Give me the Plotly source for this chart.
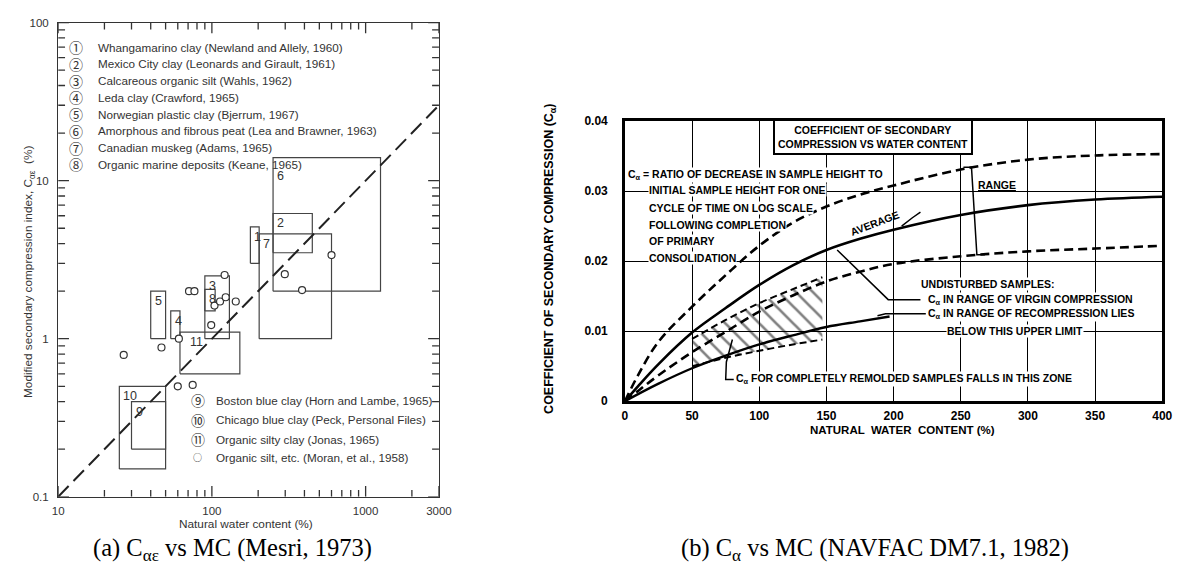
import numpy as np
import plotly.graph_objects as go

W, H = 1189, 575

# ---------------- (a) Mesri (1973) data ----------------
box_labels = ['1', '2', '3', '4', '5', '6', '7', '8', '9', '10', '11']
box_x0 = [178, 250, 90, 54, 40, 250, 203, 90, 30, 25, 62]
box_x1 = [203, 450, 130, 62, 50, 1250, 600, 105, 50, 50, 152]
box_y0 = [3.0, 3.5, 1.0, 1.0, 1.0, 2.0, 1.0, 1.5, 0.2, 0.15, 0.6]
box_y1 = [5.1, 6.2, 2.5, 1.5, 2.0, 14.0, 4.6, 2.05, 0.4, 0.5, 1.1]

silt_w = [26.7, 47, 61, 60, 75, 71, 77, 99, 104, 113, 123, 121, 143, 298, 386, 600]
silt_c = [0.79, 0.88, 1.0, 0.50, 0.51, 2.0, 2.0, 1.22, 1.62, 1.72, 1.83, 2.53, 1.72, 2.56, 2.03, 3.38]

trend_w = [10, 3000]
trend_c = [0.1, 30]

legend_top_sym = ['①', '②', '③', '④', '⑤', '⑥', '⑦', '⑧']
legend_top_txt = [
    'Whangamarino clay (Newland and Allely, 1960)',
    'Mexico City clay (Leonards and Girault, 1961)',
    'Calcareous organic silt (Wahls, 1962)',
    'Leda clay (Crawford, 1965)',
    'Norwegian plastic clay (Bjerrum, 1967)',
    'Amorphous and fibrous peat (Lea and Brawner, 1963)',
    'Canadian muskeg (Adams, 1965)',
    'Organic marine deposits (Keane, 1965)',
]
legend_bot_sym = ['⑨', '⑩', '⑪', '○']
legend_bot_txt = [
    'Boston blue clay (Horn and Lambe, 1965)',
    'Chicago blue clay (Peck, Personal Files)',
    'Organic silty clay (Jonas, 1965)',
    'Organic silt, etc. (Moran, et al., 1958)',
]

xa_ticks = [10, 100, 1000, 3000]
xa_minor = [20, 30, 40, 50, 60, 70, 80, 90, 200, 300, 400, 500, 600, 700, 800, 900, 2000]
ya_ticks = [0.1, 1, 10, 100]
ya_minor = [0.2, 0.3, 0.4, 0.5, 0.6, 0.7, 0.8, 0.9, 2, 3, 4, 5, 6, 7, 8, 9, 20, 30, 40, 50, 60, 70, 80, 90]

# ---------------- (b) NAVFAC DM7.1 (1982) data ----------------
w_pts = [0, 10, 25, 50, 75, 100, 125, 150, 175, 200, 250, 300, 350, 400]
range_upper = [0, 0.0038, 0.0085, 0.0135, 0.0180, 0.0222, 0.0255, 0.0278, 0.0295, 0.0308, 0.0331, 0.0345, 0.0351, 0.0353]
average = [0, 0.0022, 0.0053, 0.0098, 0.0133, 0.0166, 0.0194, 0.0216, 0.0232, 0.0245, 0.0266, 0.0280, 0.0288, 0.0292]
range_lower = [0, 0.0015, 0.0037, 0.0070, 0.0099, 0.0128, 0.0151, 0.0171, 0.0185, 0.0196, 0.0207, 0.0214, 0.0218, 0.0222]

recomp_w = [0, 25, 50, 75, 100, 125, 150, 175, 197]
recomp_c = [0, 0.0025, 0.0047, 0.0065, 0.0081, 0.0094, 0.0106, 0.0114, 0.0121]

zone_w = [50, 75, 100, 125, 147]
zone_top = [0.0089, 0.0116, 0.0140, 0.0160, 0.0177]
zone_bot = [0.0050, 0.0062, 0.0072, 0.0081, 0.0088]

xb_ticks = [0, 50, 100, 150, 200, 250, 300, 350, 400]
yb_ticks = [0, 0.01, 0.02, 0.03, 0.04]
yb_text = ['0', '0.01', '0.02', '0.03', '0.04']


def PX(x):
    return x / W


def PY(y):
    return 1 - y / H


GREY = '#333333'
SANS = 'Liberation Sans, Arial, sans-serif'
NARROW = 'Liberation Sans Narrow, Arial Narrow, Liberation Sans, sans-serif'
SERIF = 'Liberation Serif, Times New Roman, serif'

# plot-area geometry of panel (a)
A_L, A_R, A_T, A_B = 53, 440, 16, 502
XR = [1, np.log10(3000)]
YR = [-1, 2]
px_per_dec_x = (A_R - A_L) / (XR[1] - XR[0])
px_per_dec_y = (A_B - A_T) / (YR[1] - YR[0])

fig = go.Figure()

# ---- (a) boxes ----
for x0, x1, y0, y1 in zip(box_x0, box_x1, box_y0, box_y1):
    fig.add_trace(go.Scatter(x=[x0, x1, x1, x0, x0], y=[y0, y0, y1, y1, y0],
                             mode='lines', line=dict(color='#444', width=1.2),
                             xaxis='x', yaxis='y', hoverinfo='skip', showlegend=False))

fig.add_trace(go.Scatter(x=trend_w, y=trend_c, mode='lines',
                         line=dict(color='#222', width=2, dash='15px,7px'),
                         xaxis='x', yaxis='y', showlegend=False))

fig.add_trace(go.Scatter(x=silt_w, y=silt_c, mode='markers',
                         marker=dict(symbol='circle', size=7, color='white',
                                     line=dict(color='#333', width=1.2)),
                         xaxis='x', yaxis='y', showlegend=False))

# ---- (a) inside tick marks on all four sides (derived from the tick lists) ----
ymin, ymax = 10 ** YR[0], 10 ** YR[1]
xmin, xmax = 10 ** XR[0], 10 ** XR[1]
tx, ty = [], []
for vals, ln in ((xa_ticks, 11), (xa_minor, 7)):
    f = 10 ** (ln / px_per_dec_y)
    for v in vals:
        tx += [v, v, None, v, v, None]
        ty += [ymin, ymin * f, None, ymax, ymax / f, None]
for vals, ln in ((ya_ticks, 11), (ya_minor, 7)):
    f = 10 ** (ln / px_per_dec_x)
    for v in vals:
        tx += [xmin, xmin * f, None, xmax, xmax / f, None]
        ty += [v, v, None, v, v, None]
fig.add_trace(go.Scatter(x=tx, y=ty, mode='lines', line=dict(color='#333', width=1.3),
                         xaxis='x', yaxis='y', hoverinfo='skip', showlegend=False,
                         cliponaxis=False))

# ---- (b) curves ----
zx = zone_w + zone_w[::-1]
zy = zone_top + zone_bot[::-1]
fig.add_trace(go.Scatter(x=zx + [zx[0]], y=zy + [zy[0]], mode='lines', fill='toself',
                         line=dict(width=0, color='rgba(0,0,0,0)'),
                         fillcolor='rgba(0,0,0,0)',
                         fillpattern=dict(shape='\\', fgcolor='black', bgcolor='rgba(0,0,0,0)',
                                          size=12, solidity=0.22),
                         xaxis='x2', yaxis='y2', hoverinfo='skip', showlegend=False))
for yy in (zone_top, zone_bot):
    fig.add_trace(go.Scatter(x=zone_w, y=yy, mode='lines', line_shape='spline',
                             line=dict(color='black', width=2, dash='7px,4px'),
                             xaxis='x2', yaxis='y2', showlegend=False))

for yy, dash, wd in ((range_upper, '9px,5px', 2.6), (range_lower, '9px,5px', 2.6), (average, 'solid', 2.6)):
    fig.add_trace(go.Scatter(x=w_pts, y=yy, mode='lines', line_shape='spline',
                             line=dict(color='black', width=wd, dash=dash),
                             xaxis='x2', yaxis='y2', showlegend=False))

fig.add_trace(go.Scatter(x=recomp_w, y=recomp_c, mode='lines', line_shape='spline',
                         line=dict(color='black', width=2.4),
                         xaxis='x2', yaxis='y2', showlegend=False))

annotations = []


def pa(x, y, text, font, xanchor='center', yanchor='middle', **kw):
    d = dict(x=PX(x), y=PY(y), xref='paper', yref='paper', text=text, showarrow=False,
             xanchor=xanchor, yanchor=yanchor, font=font)
    d.update(kw)
    annotations.append(d)


# box labels (a)
for lab, x0, y1 in zip(box_labels, box_x0, box_y1):
    xs = 8 if lab == '11' else 2
    ys = -9 if lab == '6' else -1
    annotations.append(dict(x=np.log10(x0), y=np.log10(y1), xref='x', yref='y', text=lab,
                            showarrow=False, xanchor='left', yanchor='top', xshift=xs, yshift=ys,
                            font=dict(family=SANS, size=12.5, color=GREY)))

CIRC = 'Noto Sans CJK JP, DejaVu Sans, sans-serif'
# legend (a)
for i, (s, t) in enumerate(zip(legend_top_sym, legend_top_txt)):
    yy = 41 + 17.2 * i
    pa(71, yy, s, dict(family=CIRC, size=14, color=GREY))
    pa(91, yy, t, dict(family=SANS, size=11.7, color=GREY), xanchor='left')
for i, (s, t) in enumerate(zip(legend_bot_sym, legend_bot_txt)):
    yy = [403, 423, 443, 462][i]
    pa(195, yy, s, dict(family=CIRC, size=14 if i < 3 else 9, color=GREY))
    pa(211, yy, t, dict(family=SANS, size=11.7, color=GREY), xanchor='left')

# axis titles (a)
pa(244, 530, 'Natural water content (%)', dict(family=SANS, size=11.8, color=GREY))
pa(23, 272, 'Modified secondary compression index, C<sub>αε</sub>  (%)',
   dict(family=SANS, size=11.8, color=GREY), textangle=-90)

# captions
pa(230, 556, '(a) C<sub>αε</sub> vs MC (Mesri, 1973)', dict(family=SERIF, size=24.5, color='black'))
pa(883, 556, '(b) C<sub>α</sub> vs MC (NAVFAC DM7.1, 1982)', dict(family=SERIF, size=24.5, color='black'))

BF = dict(family=NARROW, size=10.5, color='black', weight='bold')


def tb(x, y, text, anchor='left', bg='white', **kw):
    d = dict(x=x, y=y, xref='x2', yref='y2', text=text, showarrow=False, xanchor=anchor,
             yanchor='middle', font=BF, bgcolor=bg, borderpad=0)
    d.update(kw)
    annotations.append(d)


# (b) texts
tb(185, 0.0377, 'COEFFICIENT OF SECONDARY<br>COMPRESSION VS WATER CONTENT', anchor='center',
   bordercolor='black', borderwidth=2, borderpad=3)
tb(1.5, 0.0323, 'C<sub>α</sub> = RATIO OF DECREASE IN SAMPLE HEIGHT TO')
tb(17, 0.0301, 'INITIAL SAMPLE HEIGHT FOR ONE')
tb(17, 0.0276, 'CYCLE OF TIME ON LOG SCALE')
tb(17, 0.0252, 'FOLLOWING COMPLETION')
tb(17, 0.0229, 'OF PRIMARY')
tb(17, 0.0205, 'CONSOLIDATION')
tb(262, 0.0309, '<u>RANGE</u>', bg='rgba(0,0,0,0)')
tb(186, 0.0255, 'AVERAGE', anchor='center', bg='rgba(0,0,0,0)', textangle=-21)
tb(220, 0.0168, 'UNDISTURBED SAMPLES:')
tb(225, 0.0145, 'C<sub>α</sub> IN RANGE OF VIRGIN COMPRESSION')
tb(225, 0.0125, 'C<sub>α</sub> IN RANGE OF RECOMPRESSION LIES')
tb(239, 0.0100, 'BELOW THIS UPPER LIMIT')
tb(82, 0.0031, 'C<sub>α</sub> FOR COMPLETELY REMOLDED SAMPLES FALLS IN THIS ZONE')

# (b) axis titles
pa(911, 434, 'NATURAL  WATER  CONTENT (%)', dict(family=NARROW, size=11.5, color='black', weight='bold'))
pa(553, 258, 'COEFFICIENT OF SECONDARY COMPRESSION (C<sub>α</sub>)',
   dict(family=NARROW, size=12.5, color='black', weight='bold'), textangle=-90)

# leader lines (b)
shapes = []


def seg(pts, width=1.5):
    path = 'M ' + ' L '.join(f'{a},{b}' for a, b in pts)
    shapes.append(dict(type='path', path=path, xref='x2', yref='y2',
                       line=dict(color='black', width=width)))


seg([(220, 0.0145), (196, 0.0145), (158, 0.0216)])
seg([(224, 0.0125), (194, 0.0125), (188, 0.0122)])
seg([(81, 0.0031), (75, 0.0031), (75.5, 0.0056), (80, 0.0088)])
seg([(252, 0.0334), (258, 0.0334), (262, 0.0209), (268, 0.0209)])
seg([(206, 0.0250), (214, 0.0262), (220, 0.0270)])

fig.update_layout(
    width=W, height=H, margin=dict(l=0, r=0, t=0, b=0),
    paper_bgcolor='white', plot_bgcolor='white', showlegend=False,
    annotations=annotations, shapes=shapes,
    xaxis=dict(type='log', range=XR, domain=[PX(A_L), PX(A_R)], anchor='y',
               tickmode='array', tickvals=xa_ticks, ticktext=[str(v) for v in xa_ticks],
               showline=True, linecolor='#333', linewidth=1.3, mirror=True,
               ticks='', showgrid=False, zeroline=False, ticklabelstandoff=3,
               tickfont=dict(family=SANS, size=11.5, color=GREY)),
    yaxis=dict(type='log', range=YR, domain=[PY(A_B), PY(A_T)], anchor='x',
               tickmode='array', tickvals=ya_ticks, ticktext=['0.1', '1', '10', '100'],
               showline=True, linecolor='#333', linewidth=1.3, mirror=True,
               ticks='', showgrid=False, zeroline=False, ticklabelstandoff=6,
               tickfont=dict(family=SANS, size=11.5, color=GREY)),
    xaxis2=dict(range=[0, 400], domain=[PX(629), PX(1175)], anchor='y2',
                showline=True, linecolor='black', linewidth=2.5, mirror=True,
                tickvals=xb_ticks, ticks='', showgrid=True, gridcolor='black', gridwidth=1.4,
                zeroline=False, ticklabelstandoff=2,
                tickfont=dict(family=NARROW, size=12, color='black', weight='bold')),
    yaxis2=dict(range=[0, 0.04], domain=[PY(404), PY(117)], anchor='x2',
                showline=True, linecolor='black', linewidth=2.5, mirror=True,
                tickvals=yb_ticks, ticktext=yb_text, ticks='', showgrid=True,
                gridcolor='black', gridwidth=1.4, zeroline=False, ticklabelstandoff=12,
                tickfont=dict(family=NARROW, size=12, color='black', weight='bold')),
)

fig.write_html('out.html')
